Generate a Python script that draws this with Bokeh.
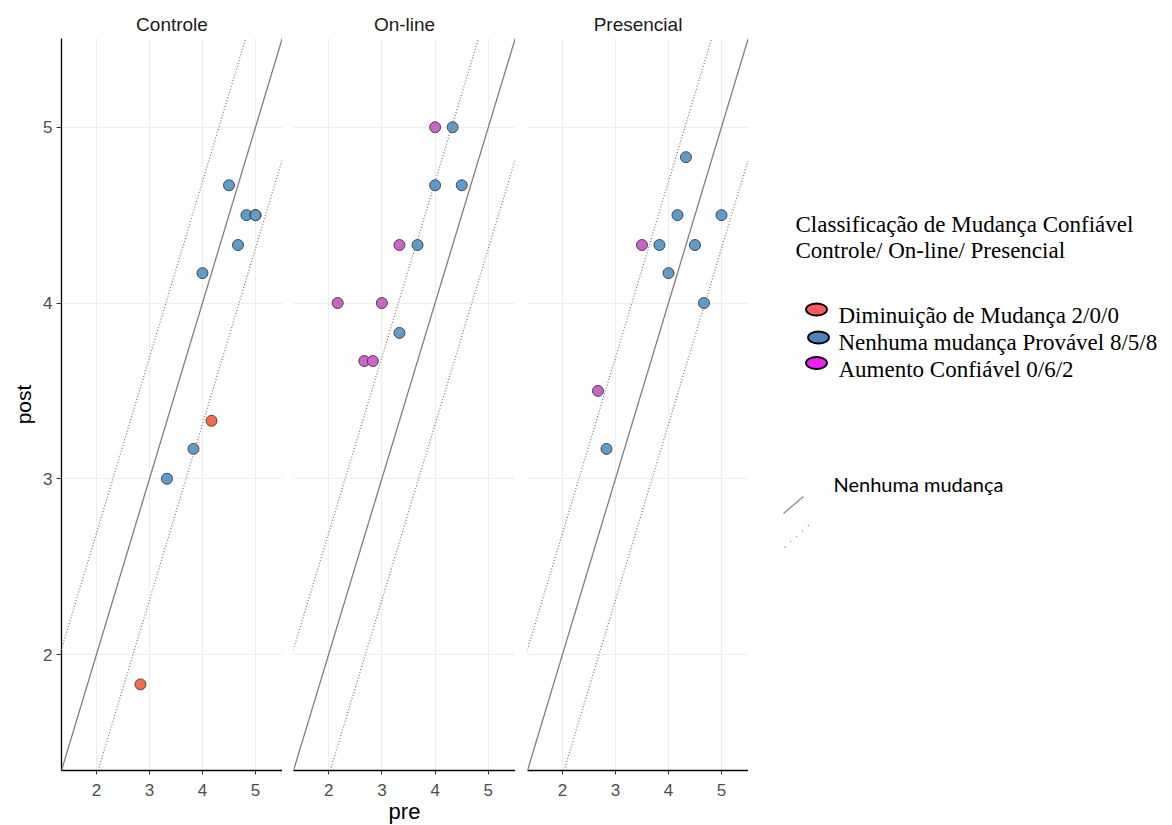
from bokeh.plotting import figure
from bokeh.layouts import row
from bokeh.models import Range1d, Slope, ColumnDataSource, FixedTicker
from bokeh.core.properties import value
from bokeh.embed import file_html
from bokeh.resources import INLINE

# ---- data: pre / post scores per group and reliable-change class ----
# D = Diminuição, N = Nenhuma mudança provável, A = Aumento confiável
groups = ["Controle", "On-line", "Presencial"]

controle_pre = [4.5, 4.83, 5.0, 5.0, 4.67, 4.0, 3.83, 3.33, 4.17, 2.83]
controle_post = [4.67, 4.5, 4.5, 4.5, 4.33, 4.17, 3.17, 3.0, 3.33, 1.83]
controle_cls = ["N", "N", "N", "N", "N", "N", "N", "N", "D", "D"]

online_pre = [4.0, 3.33, 2.17, 3.0, 2.67, 2.83, 4.33, 4.0, 4.5, 3.67, 3.33]
online_post = [5.0, 4.33, 4.0, 4.0, 3.67, 3.67, 5.0, 4.67, 4.67, 4.33, 3.83]
online_cls = ["A", "A", "A", "A", "A", "A", "N", "N", "N", "N", "N"]

presencial_pre = [3.5, 2.67, 4.33, 4.17, 5.0, 3.83, 4.5, 4.0, 4.67, 2.83]
presencial_post = [4.33, 3.5, 4.83, 4.5, 4.5, 4.33, 4.33, 4.17, 4.0, 3.17]
presencial_cls = ["A", "A", "N", "N", "N", "N", "N", "N", "N", "N"]

# reliable change band around the identity line
rci_band = 0.69

class_codes = ["D", "N", "A"]
class_labels = ["Diminuição de Mudança", "Nenhuma mudança Provável", "Aumento Confiável"]
point_colors = {"D": "#F26B4F", "N": "#5E9CCB", "A": "#CC63C9"}
legend_colors = ["#FF5A5A", "#4F81BD", "#F020F0"]

axis_ticks = [2, 3, 4, 5]
x_lo, x_hi = 1.34, 5.51
y_lo, y_hi = 1.34, 5.505

panel_data = [
    (controle_pre, controle_post, controle_cls),
    (online_pre, online_post, online_cls),
    (presencial_pre, presencial_post, presencial_cls),
]

SANS = "Liberation Sans"
TICK_COLOR = "#4D4D4D"
FRAME_H = 732


def make_panel(name, pre, post, cls, first, middle, left_border, frame_w):
    p = figure(
        title=name,
        frame_width=frame_w, frame_height=FRAME_H,
        min_border_left=left_border, min_border_right=0,
        min_border_top=38, min_border_bottom=55,
        x_range=Range1d(x_lo, x_hi), y_range=Range1d(y_lo, y_hi),
        output_backend="svg", toolbar_location=None, tools="",
        background_fill_color="white", border_fill_color="white",
    )
    p.outline_line_color = None
    p.title.align = "center"
    p.title.text_font = SANS
    p.title.text_font_style = "normal"
    p.title.text_font_size = "19px"
    p.title.text_color = "#1A1A1A"
    p.title.standoff = 8

    for g in (p.xgrid, p.ygrid):
        g.grid_line_color = "#EDEDED"
        g.grid_line_width = 1
        g.ticker = FixedTicker(ticks=axis_ticks)

    xa = p.xaxis[0]
    xa.ticker = FixedTicker(ticks=axis_ticks)
    xa.axis_line_color = "black"
    xa.axis_line_width = 1.3
    xa.major_tick_line_color = "#333333"
    xa.major_tick_out = 4
    xa.major_tick_in = 0
    xa.minor_tick_line_color = None
    xa.major_label_text_font = SANS
    xa.major_label_text_font_size = "17px"
    xa.major_label_text_color = TICK_COLOR
    xa.major_label_standoff = 9
    if middle:
        xa.axis_label = "pre"
        xa.axis_label_text_font = SANS
        xa.axis_label_text_font_style = "normal"
        xa.axis_label_text_font_size = "22px"
        xa.axis_label_text_color = "black"
        xa.axis_label_standoff = 0

    ya = p.yaxis[0]
    if first:
        ya.ticker = FixedTicker(ticks=axis_ticks)
        ya.axis_line_color = "black"
        ya.axis_line_width = 1.3
        ya.major_tick_line_color = "#333333"
        ya.major_tick_out = 5
        ya.major_tick_in = 0
        ya.minor_tick_line_color = None
        ya.major_label_text_font = SANS
        ya.major_label_text_font_size = "17px"
        ya.major_label_text_color = TICK_COLOR
        ya.major_label_standoff = 4
        ya.axis_label = "post"
        ya.axis_label_text_font = SANS
        ya.axis_label_text_font_style = "normal"
        ya.axis_label_text_font_size = "21px"
        ya.axis_label_text_color = "black"
        ya.axis_label_standoff = 5
    else:
        ya.visible = False

    # identity line and reliable-change limits
    p.add_layout(Slope(gradient=1, y_intercept=0, line_color="#7F7F7F", line_width=1.3))
    for off in (rci_band, -rci_band):
        p.add_layout(Slope(gradient=1, y_intercept=off, line_color="#7F7F7F",
                           line_width=1.3, line_dash="1 2"))

    src = ColumnDataSource(dict(
        pre=pre, post=post, cls=cls,
        color=[point_colors[c] for c in cls],
    ))
    p.scatter("pre", "post", source=src, size=11, marker="circle",
              fill_color="color", line_color="#3A3A3A", line_width=0.9)
    return p


panels = []
borders = [61, 11, 12]
frames = [221, 222, 221]
for i, (name, (pre, post, cls)) in enumerate(zip(groups, panel_data)):
    panels.append(make_panel(name, pre, post, cls, i == 0, i == 1, borders[i], frames[i]))

# ---- legend area (data units equal page pixels) ----
leg = figure(
    frame_width=424, frame_height=FRAME_H,
    min_border_left=0, min_border_right=0, min_border_top=38, min_border_bottom=55,
    x_range=Range1d(748, 1172), y_range=Range1d(38 + FRAME_H, 38),
    output_backend="svg", toolbar_location=None, tools="",
    background_fill_color="white", border_fill_color="white",
)
leg.outline_line_color = None
leg.axis.visible = False
leg.grid.visible = False

SERIF = value("Liberation Serif")
leg.text(x=[795, 795], y=[224, 250],
         text=["Classificação de Mudança Confiável", "Controle/ On-line/ Presencial"],
         text_font=SERIF, text_font_size="23px", text_color="black",
         text_baseline="alphabetic", text_align="left")

counts = []
for code in class_codes:
    counts.append("/".join(str(c.count(code)) for (_, _, c) in panel_data))
item_text = [f"{lab} {cnt}" for lab, cnt in zip(class_labels, counts)]
leg.ellipse(x=[816, 818, 816], y=[309, 337, 362.5], width=21, height=12,
            fill_color=legend_colors, line_color="black", line_width=1.8)
leg.text(x=[838] * 3, y=[315, 342, 369], text=item_text,
         text_font=SERIF, text_font_size="23px", text_color="black",
         text_baseline="alphabetic", text_align="left")

leg.text(x=[833], y=[483], text=["Nenhuma mudança"],
         text_font=value("Lato"), text_font_size="20px", text_color="black",
         text_baseline="alphabetic", text_align="left")
leg.line(x=[783, 803], y=[513, 496], line_color="#8C8C8C", line_width=1.3)
leg.line(x=[784, 811], y=[547, 522], line_color="#8C8C8C", line_width=1.5, line_dash="1 7")

layout = row(*panels, leg, spacing=0)

with open("out.html", "w") as f:
    f.write(file_html(layout, INLINE))
